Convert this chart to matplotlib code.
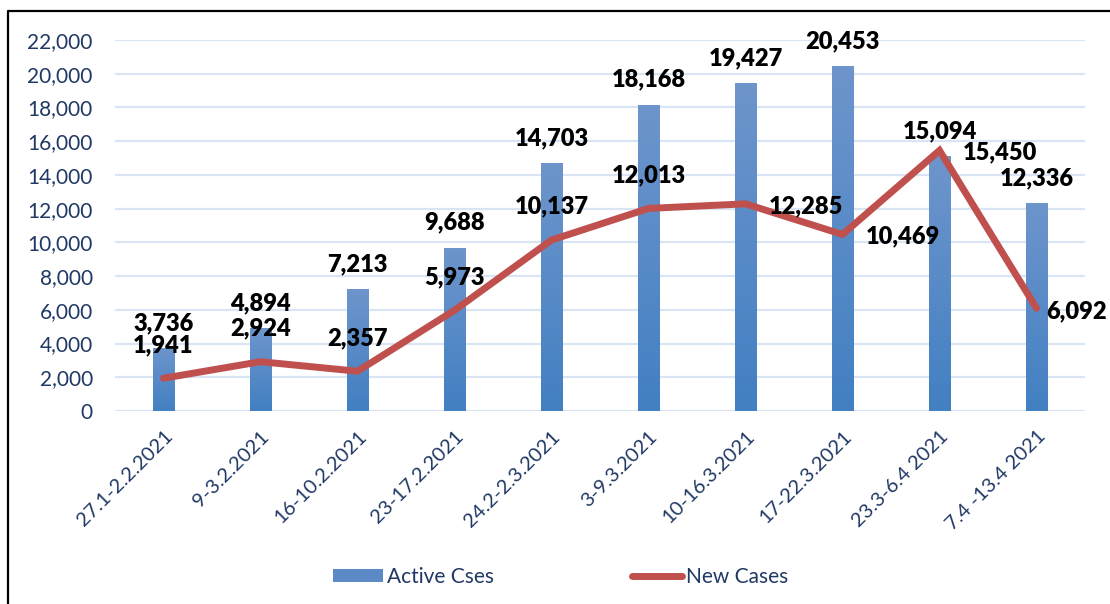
import numpy as np
import matplotlib
matplotlib.use('Agg')
import matplotlib.pyplot as plt
from matplotlib.lines import Line2D
from matplotlib.patches import Patch

plt.rcParams['font.family'] = ['Lato', 'DejaVu Sans']

# data
periods = ['27.1-2.2.2021', '9-3.2.2021', '16-10.2.2021', '23-17.2.2021',
           '24.2-2.3.2021', '3-9.3.2021', '10-16.3.2021', '17-22.3.2021',
           '23.3-6.4 2021', '7.4 -13.4 2021']
active_cases = [3736, 4894, 7213, 9688, 14703, 18168, 19427, 20453, 15094, 12336]
new_cases = [1941, 2924, 2357, 5973, 10137, 12013, 12285, 10469, 15450, 6092]

# label placement of the line values (as in the original chart)
line_label_pos = ['above'] * 6 + ['right', 'right', 'right', 'right_near']

txt_col = '#203864'
bar_top_col = '#6E95CC'
bar_bot_col = '#4280C2'
line_col = '#C0504D'
grid_col = '#D9E4F4'

fig = plt.figure(figsize=(11.1, 6.04), dpi=100)
ax = fig.add_axes([115 / 1110, 1 - 411 / 604, 970 / 1110, 371 / 604])

x = np.arange(len(periods))
bars = ax.bar(x, active_cases, width=0.22, color=bar_bot_col, zorder=2)

# vertical gradient inside each bar
grad = np.linspace(0, 1, 256).reshape(-1, 1)
cmap = matplotlib.colors.LinearSegmentedColormap.from_list('g', [bar_bot_col, bar_top_col])
for b in bars:
    x0, y0 = b.get_x(), b.get_y()
    w, h = b.get_width(), b.get_height()
    im = ax.imshow(grad, cmap=cmap, aspect='auto', origin='lower',
                   extent=(x0, x0 + w, y0, y0 + h), zorder=2.1)
    im.set_clip_path(b)

ax.plot(x, new_cases, color=line_col, lw=5, solid_capstyle='round',
        solid_joinstyle='miter', zorder=3)

ax.set_xlim(-0.5, len(periods) - 0.5)
ax.set_ylim(0, 22000)
ax.set_yticks(range(0, 22001, 2000))
ax.set_yticklabels([f'{v:,}' for v in range(0, 22001, 2000)])
ax.yaxis.grid(True, color=grid_col, lw=1.6, zorder=0)
ax.set_axisbelow(True)
for s in ax.spines.values():
    s.set_visible(False)
ax.tick_params(axis='y', length=0, pad=16, labelsize=15, labelcolor=txt_col)
ax.tick_params(axis='x', length=0, pad=12, labelsize=14.5, labelcolor=txt_col)
ax.set_xticks(x)
ax.set_xticklabels(periods, rotation=45, ha='right', rotation_mode='anchor')

# value labels
for i, v in enumerate(active_cases):
    ax.annotate(f'{v:,}', (x[i], v), xytext=(0, 18), textcoords='offset points',
                ha='center', va='center', fontsize=17, fontweight='heavy', zorder=5)
for i, v in enumerate(new_cases):
    pos = line_label_pos[i]
    if pos == 'above':
        off, ha = (0, 24), 'center'
    elif pos == 'right':
        off, ha = (17, -1.5), 'left'
    else:
        off, ha = (7, -2), 'left'
    ax.annotate(f'{v:,}', (x[i], v), xytext=off, textcoords='offset points',
                ha=ha, va='center', fontsize=17, fontweight='heavy', zorder=5)

handles = [Patch(facecolor='#5B8AC6', edgecolor='none', label='Active Cses'),
           Line2D([0], [0], color=line_col, lw=5, solid_capstyle='round', label='New Cases')]
fig.legend(handles=handles, loc='center', bbox_to_anchor=(0.505, 0.045), ncol=2,
           frameon=False, fontsize=15, labelcolor=txt_col, handlelength=2.4,
           handleheight=0.6, handletextpad=0.2, columnspacing=6.6)

# outer frame (top and left edges visible)
fig.add_artist(Line2D([8 / 1110, 8 / 1110, 1], [0, 1 - 11 / 604, 1 - 11 / 604],
                      color='black', lw=1.6, transform=fig.transFigure))

fig.savefig('out.png', dpi=100)
